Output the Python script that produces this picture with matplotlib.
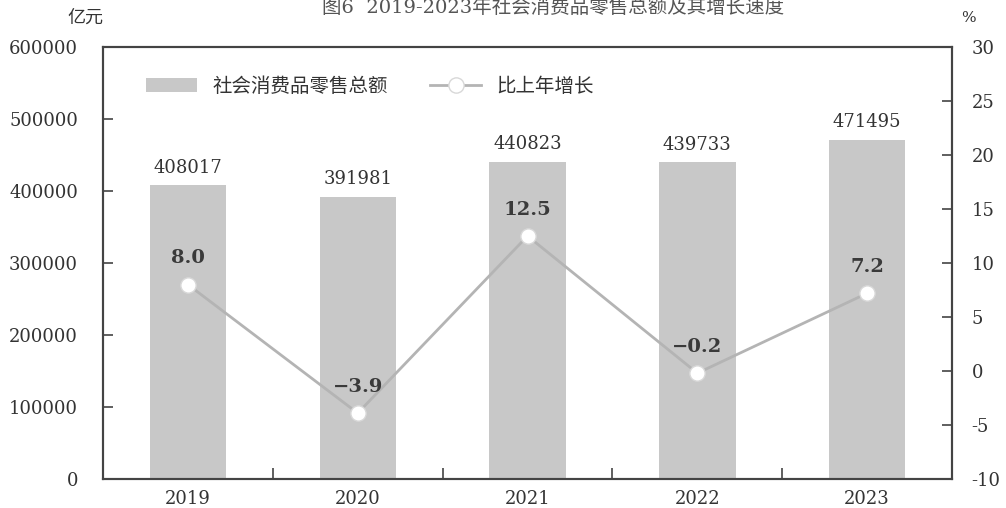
import matplotlib
matplotlib.use('Agg')
import matplotlib.pyplot as plt
import numpy as np

years = ['2019', '2020', '2021', '2022', '2023']
retail = [408017, 391981, 440823, 439733, 471495]
growth = [8.0, -3.9, 12.5, -0.2, 7.2]
left_ticks = [0, 100000, 200000, 300000, 400000, 500000, 600000]
right_ticks = [-10, -5, 0, 5, 10, 15, 20, 25, 30]

plt.rcParams['font.family'] = ['DejaVu Serif', 'Noto Sans CJK SC']
TXT = '#333333'

fig = plt.figure(figsize=(10.06, 5.08), dpi=100, facecolor='white')
ax = fig.add_axes([0.1024, 0.0571, 0.844, 0.8504])
ax2 = ax.twinx()

x = np.arange(len(years))
ax.bar(x, retail, width=0.45, color='#c8c8c8', zorder=2, label='社会消费品零售总额')
for xi, v in zip(x, retail):
    ax.text(xi, v + 12000, f'{v}', ha='center', va='bottom', fontsize=13, color=TXT)

ax.set_xlim(-0.5, 4.5)
ax.set_ylim(0, 600000)
ax.set_yticks(left_ticks)
ax.set_yticklabels([str(t) for t in left_ticks], fontsize=13, color=TXT)
ax.set_xticks(x)
ax.set_xticklabels(years, fontsize=13, color=TXT)
ax.tick_params(axis='x', length=0, pad=8)
ax.set_xticks(x[:-1] + 0.5, minor=True)
ax.tick_params(axis='x', which='minor', direction='in', length=8, width=1.2, color='#444444')
ax.tick_params(axis='y', direction='in', length=7, width=1.2, color='#444444', pad=18)

ax2.plot(x, growth, color='#b4b4b4', lw=2, marker='o', ms=11, mfc='white',
         mec='#d8d8d8', mew=1.0, zorder=3, label='比上年增长')
for xi, v in zip(x, growth):
    ax2.text(xi, v + 1.6, f'{v:.1f}'.replace('-', '\u2212'), ha='center', va='bottom',
             fontsize=14, color='#3a3a3a', fontweight='semibold', zorder=4)
ax2.set_ylim(-10, 30)
ax2.set_yticks(right_ticks)
ax2.set_yticklabels([str(t) for t in right_ticks], fontsize=13, color=TXT)
ax2.tick_params(axis='y', direction='in', length=7, width=1.2, color='#444444', pad=14)

for a in (ax, ax2):
    for sp in a.spines.values():
        sp.set_color('#444444')
        sp.set_linewidth(1.5)

h1, l1 = ax.get_legend_handles_labels()
h2, l2 = ax2.get_legend_handles_labels()
ax.legend(h1 + h2, l1 + l2, loc='upper left', bbox_to_anchor=(0.03, 0.97), ncol=2,
          frameon=False, fontsize=14, handlelength=2.6, columnspacing=2.2,
          labelcolor=TXT)

fig.text(0.085, 0.965, '亿元', ha='center', va='center', fontsize=13, color=TXT)
fig.text(0.963, 0.965, '%', ha='center', va='center', fontsize=11, color=TXT)
fig.text(0.55, 0.985, '图6  2019-2023年社会消费品零售总额及其增长速度', ha='center',
         va='center', fontsize=14, color='#555555')

fig.savefig('out.png', dpi=100, facecolor='white')
